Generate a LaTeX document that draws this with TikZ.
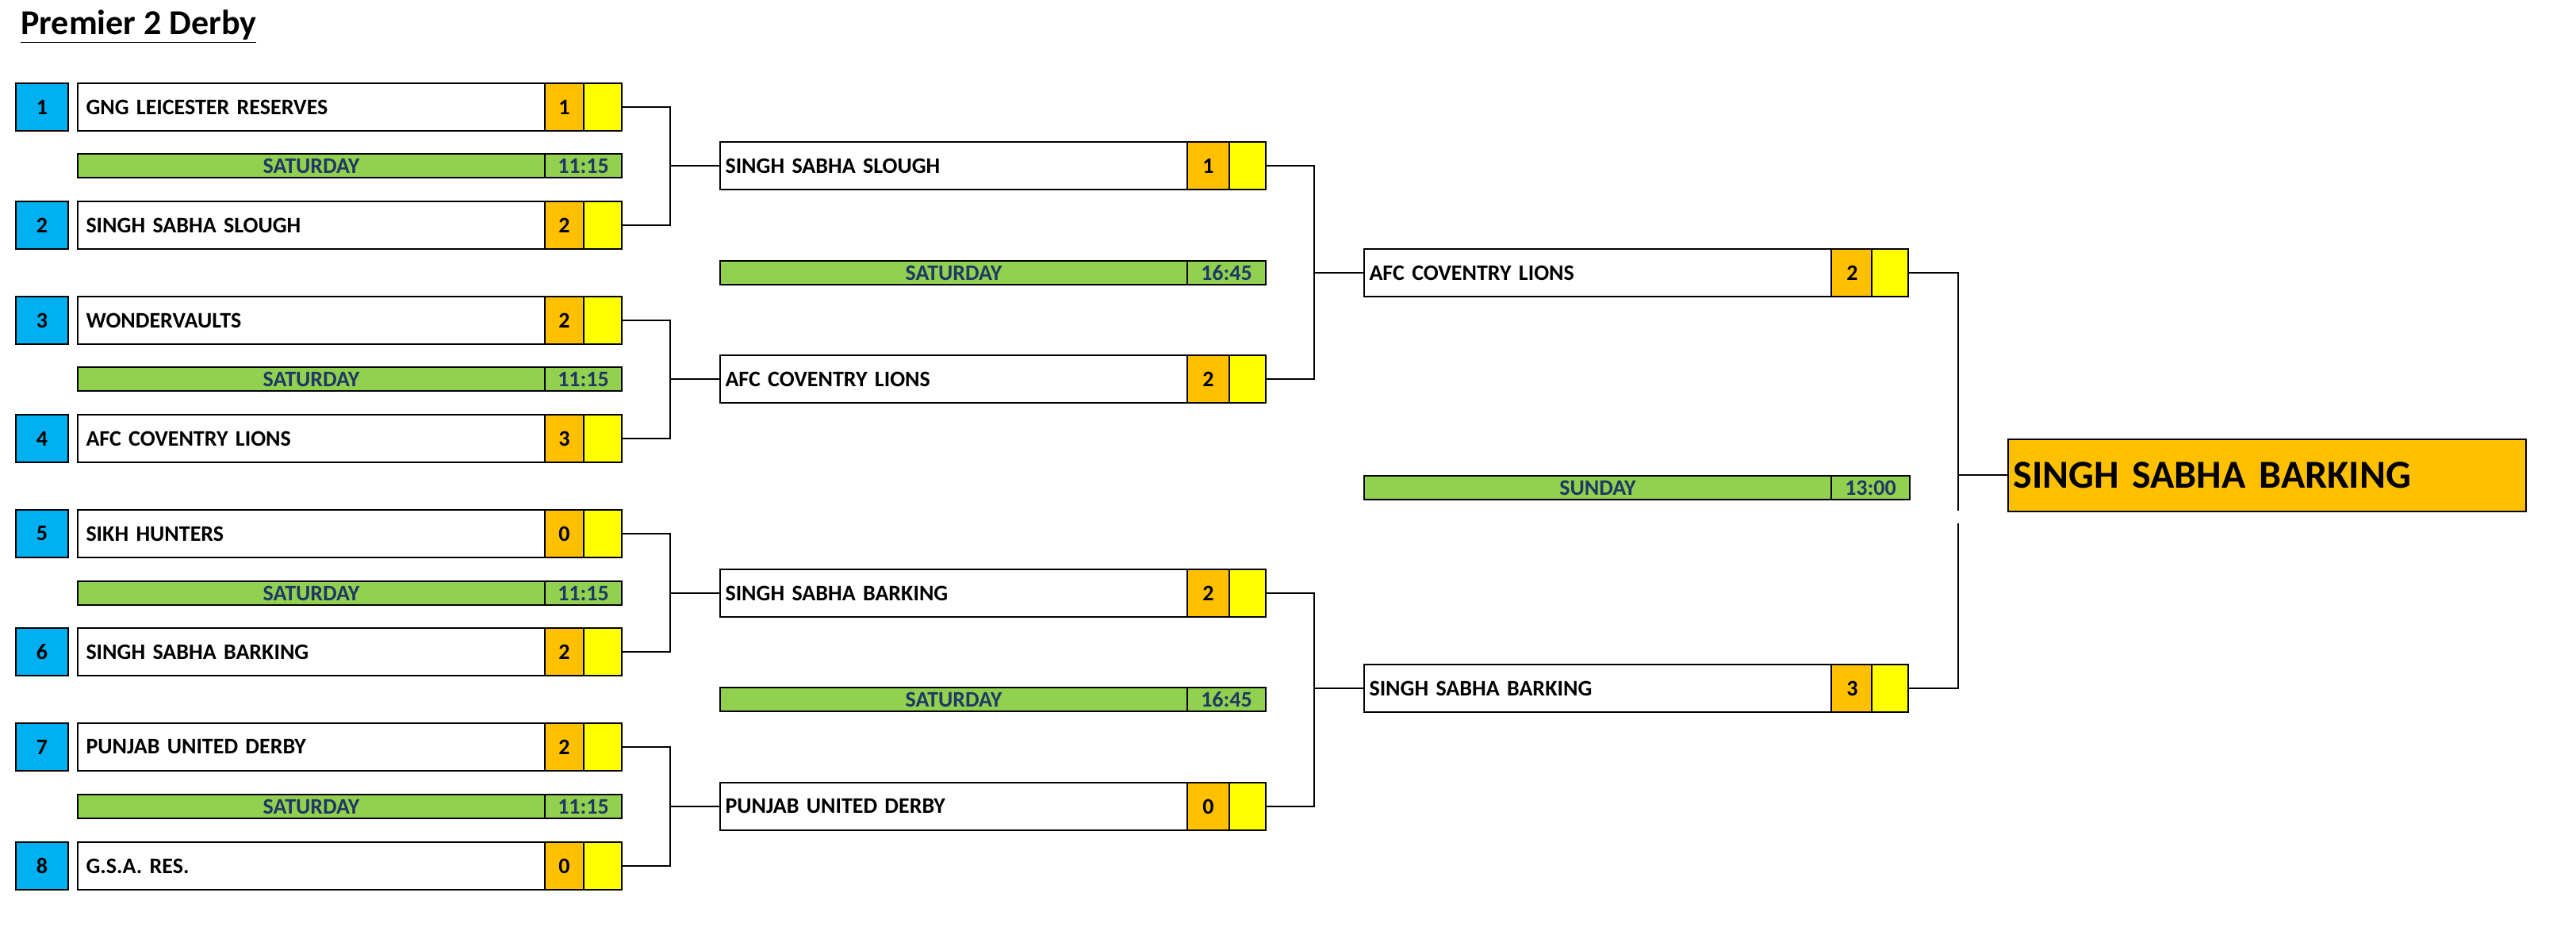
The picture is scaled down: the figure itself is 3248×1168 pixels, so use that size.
\documentclass[tikz,border=0pt]{standalone}
\usepackage{fontspec}
\setmainfont{Carlito}
\definecolor{cblue}{HTML}{00B0F0}
\definecolor{corange}{HTML}{FFC000}
\definecolor{cyellow}{HTML}{FFFF00}
\definecolor{cgreen}{HTML}{92D050}
\definecolor{cnavy}{HTML}{1F3864}
\tikzset{
 tf/.style={font=\bfseries\fontsize{14}{14}\selectfont},
 bx/.style={draw=black,line width=1pt,inner sep=0pt,anchor=west,minimum height=30pt,tf},
 seed/.style={bx,fill=cblue,minimum width=33pt},
 teamA/.style={bx,fill=white,minimum width=294.5pt,text width=290pt,align=left},
 scA/.style={bx,fill=corange,minimum width=24.5pt},
 ylA/.style={bx,fill=cyellow,minimum width=24pt},
 scB/.style={bx,fill=corange,minimum width=26.5pt},
 ylB/.style={bx,fill=cyellow,minimum width=23pt},
 day/.style={bx,fill=cgreen,minimum height=15pt,minimum width=294.5pt,text=cnavy},
 timA/.style={bx,fill=cgreen,minimum height=15pt,minimum width=48.5pt,text=cnavy},
 timB/.style={bx,fill=cgreen,minimum height=15pt,minimum width=49.5pt,text=cnavy},
 con/.style={draw=black,line width=0.8pt},
}
\begin{document}
\begin{tikzpicture}[x=0.5pt,y=-0.5pt]
\useasboundingbox (0,0) rectangle (3248,1168);
\node[anchor=north west,inner sep=0pt,font=\bfseries\fontsize{22}{22}\selectfont] (title) at (26,12) {\underline{Premier 2 Derby}};
% round 1
\foreach \i/\y/\t/\s in {1/135/GNG LEICESTER RESERVES/1,2/284/SINGH SABHA SLOUGH/2,3/404/WONDERVAULTS/2,4/553/AFC COVENTRY LIONS/3,5/673/SIKH HUNTERS/0,6/822/SINGH SABHA BARKING/2,7/942/PUNJAB UNITED DERBY/2,8/1092/G.S.A. RES./0}{
 \node[seed] (seed\i) at (19,\y) {\i};
 \node[teamA] (ta\i) at (97,\y) {\hspace*{3pt}\t};
 \node[scA] (sa\i) at (686,\y) {\s};
 \node[ylA] (ya\i) at (735,\y) {};
}
\foreach \i/\y in {1/209,2/478,3/748,4/1017}{
 \node[day] (da\i) at (97,\y) {SATURDAY};
 \node[timA] (ma\i) at (686,\y) {11:15};
}
% round 2
\foreach \i/\y/\t/\s in {1/209/SINGH SABHA SLOUGH/1,2/478/AFC COVENTRY LIONS/2,3/748/SINGH SABHA BARKING/2,4/1017/PUNJAB UNITED DERBY/0}{
 \node[teamA] (tb\i) at (907,\y) {\hspace*{1pt}\t};
 \node[scB] (sb\i) at (1496,\y) {\s};
 \node[ylB] (yb\i) at (1549,\y) {};
}
\node[day] (db1) at (907,344) {SATURDAY};
\node[timB] (mb1) at (1496,344) {16:45};
\node[day] (db2) at (907,882) {SATURDAY};
\node[timB] (mb2) at (1496,882) {16:45};
% round 3
\foreach \i/\y/\t/\s in {1/344/AFC COVENTRY LIONS/2,2/868/SINGH SABHA BARKING/3}{
 \node[teamA] (tc\i) at (1719,\y) {\hspace*{1pt}\t};
 \node[scB] (sc\i) at (2308,\y) {\s};
 \node[ylB] (yc\i) at (2359,\y) {};
}
\node[day] (dc1) at (1719,615) {SUNDAY};
\node[timB] (mc1) at (2308,615) {13:00};
% final
\node[bx,fill=corange,minimum width=326.5pt,minimum height=45.5pt,text width=322pt,align=left,font=\bfseries\fontsize{25}{25}\selectfont] (fin) at (2531,599) {\hspace*{1pt}SINGH SABHA BARKING};
% connectors round 1
\foreach \a/\b/\m in {1/2/1,3/4/2,5/6/3,7/8/4}{
 \draw[con] (ya\a.east) -| (845,0|-tb\m.west) |- (ya\b.east);
 \draw[con] (845,0|-tb\m.west) -- (tb\m.west);
}
% round 2
\draw[con] (yb1.east) -| (1657,0|-tc1.west) |- (yb2.east);
\draw[con] (1657,0|-tc1.west) -- (tc1.west);
\draw[con] (yb3.east) -| (1657,0|-tc2.west) |- (yb4.east);
\draw[con] (1657,0|-tc2.west) -- (tc2.west);
% round 3
\coordinate (gapT) at (2469,644);
\coordinate (gapB) at (2469,660);
\draw[con] (yc1.east) -| (2469,0|-fin.west) -- (fin.west);
\draw[con] (2469,0|-fin.west) -- (gapT);
\draw[con] (gapB) |- (yc2.east);
\end{tikzpicture}
\end{document}
